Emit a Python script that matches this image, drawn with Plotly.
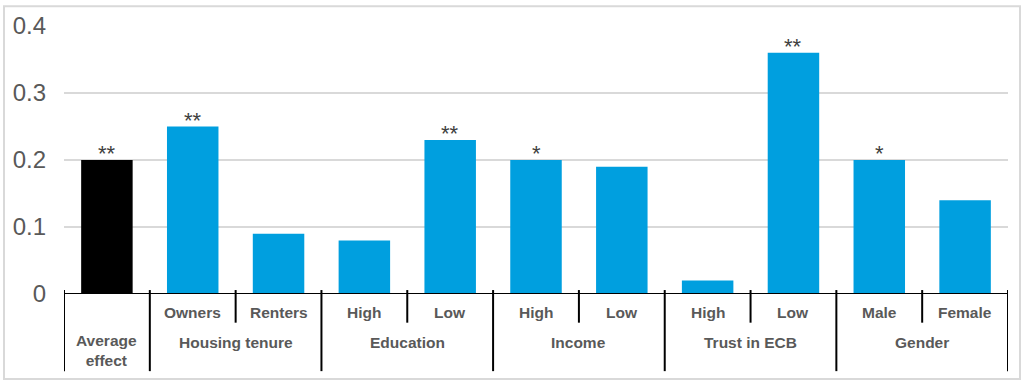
import plotly.graph_objects as go

# ---- data ----
sub_labels = ["", "Owners", "Renters", "High", "Low", "High", "Low", "High", "Low", "Male", "Female"]
group_labels = ["Average<br>effect", "Housing tenure", "Education", "Income", "Trust in ECB", "Gender"]
group_sizes = [1, 2, 2, 2, 2, 2]
values = [0.20, 0.25, 0.09, 0.08, 0.23, 0.20, 0.19, 0.02, 0.36, 0.20, 0.14]
stars = ["**", "**", "", "", "**", "*", "", "", "**", "*", ""]
y_ticks = [0, 0.1, 0.2, 0.3, 0.4]

BLUE = "#009FDF"
GREY_TXT = "#595959"
n = len(values)
xs = list(range(n))
colors = ["#000000"] + [BLUE] * (n - 1)

fig = go.Figure()
fig.add_trace(go.Bar(x=xs, y=values, marker=dict(color=colors, line=dict(width=0)),
                     width=0.6, hoverinfo="skip"))

# plot geometry for paper conversions
H_PLOT = 271.0
def py(px_below):
    return -px_below / H_PLOT

annotations = []
shapes = []
LABEL_FONT = dict(size=15.5, color=GREY_TXT, family="Liberation Sans")

# star annotations
for x, v, s in zip(xs, values, stars):
    if s:
        annotations.append(dict(x=x, y=v, xref="x", yref="y", text=s, showarrow=False,
                                yanchor="bottom", yshift=-8,
                                font=dict(size=22, color="#404040", family="Liberation Sans")))

# subcategory labels
for x, lab in zip(xs, sub_labels):
    if lab:
        annotations.append(dict(x=x, y=py(19), xref="x", yref="paper", text="<b>" + lab + "</b>",
                                showarrow=False, yanchor="middle", font=LABEL_FONT))

# group labels and separator lines
start = 0
bounds = [-0.5]
for lab, size in zip(group_labels, group_sizes):
    center = start + (size - 1) / 2
    yy = py(57) if size == 1 else py(49)
    annotations.append(dict(x=center, y=yy, xref="x", yref="paper",
                            text="<b>" + lab + "</b>", showarrow=False,
                            yanchor="middle", font=LABEL_FONT))
    for k in range(1, size):
        shapes.append(dict(type="line", xref="x", yref="paper", x0=start + k - 0.5, x1=start + k - 0.5,
                           y0=4 / H_PLOT, y1=py(29), line=dict(color="black", width=2)))
    start += size
    bounds.append(start - 0.5)
for b in bounds:
    shapes.append(dict(type="line", xref="x", yref="paper", x0=b, x1=b,
                       y0=4 / H_PLOT, y1=py(78), line=dict(color="black", width=2)))

# axis line at zero
shapes.append(dict(type="line", xref="x", yref="y", x0=-0.5, x1=n - 0.5, y0=0, y1=0,
                   line=dict(color="black", width=2)))

# outer border
shapes.append(dict(type="rect", xref="paper", yref="paper",
                   x0=-60 / 944, x1=1 + 12 / 944, y0=py(86), y1=1 + 20 / H_PLOT,
                   line=dict(color="#d9d9d9", width=2)))

fig.update_layout(
    width=1024, height=383,
    margin=dict(l=64, r=16, t=23, b=89),
    paper_bgcolor="white", plot_bgcolor="white",
    showlegend=False,
    annotations=annotations, shapes=shapes,
    font=dict(family="Liberation Sans"),
)
fig.update_xaxes(range=[-0.5, n - 0.5], showticklabels=False, showgrid=False,
                 zeroline=False, showline=False, ticks="")
fig.update_yaxes(range=[0, 0.4], tickvals=y_ticks, ticktext=[("%g" % t) for t in y_ticks],
                 showgrid=True, gridcolor="#d9d9d9", gridwidth=1.5, zeroline=False,
                 showline=False, ticklabelstandoff=17,
                 tickfont=dict(size=24, color=GREY_TXT, family="Liberation Sans"))

fig.write_html("out.html", config={"displayModeBar": False, "staticPlot": True},
               post_script="document.body.style.margin='0';document.body.style.overflow='hidden';")
